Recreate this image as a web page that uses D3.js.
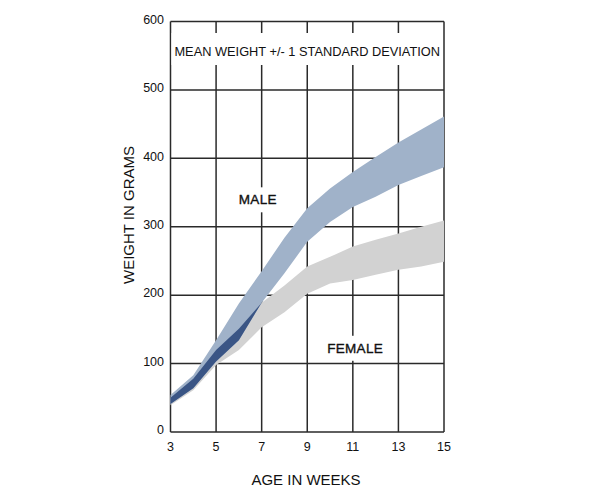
<!DOCTYPE html>
<html><head><meta charset="utf-8">
<script src="https://cdn.jsdelivr.net/npm/d3@7"></script>
<style>body{margin:0;background:#fff}svg{display:block}text{font-family:"Liberation Sans",Arial,Helvetica,sans-serif;fill:#111}</style>
</head><body><svg id="c" width="605" height="500"></svg>
<script>
const ages = [3,4,5,6,7,8,9,10,11,12,13,14,15];
const maleUpper   = [54, 83,134,188,235,284,327,356,380,402,423,442,461];
const maleLower   = [41, 64,103,134,189,232,278,307,329,344,361,374,387];
const femaleUpper = [50, 78,120,151,189,214,242,256,271,281,290,300,309];
const femaleLower = [39, 61, 98,120,153,175,202,217,222,230,237,242,249];
const xTicks = [3,5,7,9,11,13,15];
const yTicks = [0,100,200,300,400,500,600];
const titleText = "MEAN WEIGHT +/- 1 STANDARD DEVIATION";
const xTitle = "AGE IN WEEKS", yTitle = "WEIGHT IN GRAMS";
const labels = [{t:"MALE", age:6.83, v:338},{t:"FEMALE", age:11.1, v:121}];

const svg = d3.select("#c");
const x = d3.scaleLinear().domain([3,15]).range([170.5,444]);
const y = d3.scaleLinear().domain([0,600]).range([432,21.5]);
const gridColor = "#2a2a2a";
const g = svg.append("g");
g.selectAll("line.v").data(xTicks).join("line")
  .attr("x1",d=>x(d)).attr("x2",d=>x(d)).attr("y1",y(0)).attr("y2",y(600))
  .attr("stroke",gridColor).attr("stroke-width",1.5);
g.selectAll("line.h").data(yTicks).join("line")
  .attr("x1",x(3)).attr("x2",x(15)).attr("y1",d=>y(d)).attr("y2",d=>y(d))
  .attr("stroke",gridColor).attr("stroke-width",1.5);
svg.append("rect").attr("x",x(3)+1).attr("y",33).attr("width",x(15)-x(3)-2).attr("height",32).attr("fill","#fff");
svg.append("text").attr("x",(x(3)+x(15))/2).attr("y",53).attr("text-anchor","middle").attr("dominant-baseline","middle")
  .attr("font-size",12.8).text(titleText);

const idx = d3.range(ages.length);
const area = (lo,hi)=> d3.area().x(i=>x(ages[i])).y0(i=>y(lo(i))).y1(i=>y(hi(i)));
svg.append("path").datum(idx).attr("d",area(i=>femaleLower[i],i=>femaleUpper[i])).attr("fill","#d2d2d2");
svg.append("path").datum(idx).attr("d",area(i=>maleLower[i],i=>maleUpper[i])).attr("fill","#a0b2c9");
const ov = idx.filter(i=>Math.min(maleUpper[i],femaleUpper[i]) >= Math.max(maleLower[i],femaleLower[i]));
svg.append("path").datum(ov).attr("d",area(i=>Math.max(maleLower[i],femaleLower[i]),i=>Math.min(maleUpper[i],femaleUpper[i]))).attr("fill","#3a5585");

labels.forEach(l=>{
  const t = svg.append("text").attr("x",x(l.age)).attr("y",y(l.v)).attr("text-anchor","middle")
    .attr("dominant-baseline","middle").attr("font-size",13.5).attr("stroke","#111").attr("stroke-width",0.35)
    .attr("letter-spacing",0.3).text(l.t);
  const bb = t.node().getBBox();
  svg.insert("rect","text:last-of-type").attr("x",bb.x-3).attr("y",bb.y-5).attr("width",bb.width+6).attr("height",bb.height+10).attr("fill","#fff");
});
svg.selectAll("text.yt").data(yTicks).join("text").attr("class","yt")
  .attr("x",164).attr("y",d=>y(d)-1).attr("text-anchor","end").attr("dominant-baseline","middle")
  .attr("font-size",12.5).text(d=>d);
svg.selectAll("text.xt").data(xTicks).join("text").attr("class","xt")
  .attr("x",d=>x(d)).attr("y",448).attr("text-anchor","middle").attr("dominant-baseline","middle")
  .attr("font-size",12.5).text(d=>d);
svg.append("text").attr("x",306).attr("y",481).attr("text-anchor","middle").attr("dominant-baseline","middle")
  .attr("font-size",15).text(xTitle);
svg.append("text").attr("transform","translate(130,215) rotate(-90)").attr("text-anchor","middle").attr("dominant-baseline","middle")
  .attr("font-size",15).text(yTitle);
</script></body></html>
